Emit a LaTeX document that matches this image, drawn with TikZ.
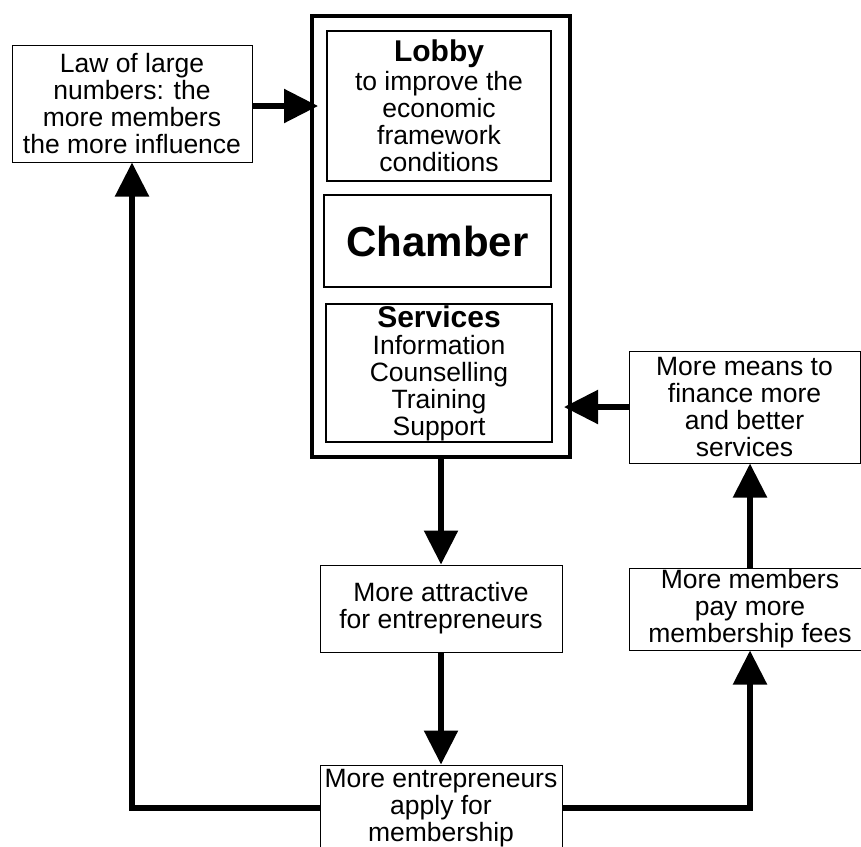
\documentclass[tikz,border=0pt]{standalone}
\usepackage{fontspec}
\setmainfont{Liberation Sans}
\usetikzlibrary{arrows.meta}

\begin{document}
\begin{tikzpicture}[x=1pt,y=-1pt,
  box/.style={draw=black,line width=1pt,inner sep=0pt,align=center,
    font=\fontsize{26.5}{27}\selectfont},
  inbox/.style={box,line width=1.6pt},
  flow/.style={line width=5.5pt,-{Triangle[length=34pt,width=33pt]}}]
\useasboundingbox (0,0) rectangle (861,846);
\clip (0,0) rectangle (861,846);
%chamber
\node[draw,line width=4pt,minimum width=258pt,minimum height=441pt] (frame) at (441,236.5) {};
\node[inbox,minimum width=224pt,minimum height=150pt] (lobby) at (439,106)
  {{\bfseries\fontsize{30}{27}\selectfont Lobby}\\[1.5pt]to improve the\\economic\\framework\\conditions};
\node[inbox,minimum width=227pt,minimum height=92pt] (chamber) at (437.5,241)
  {\bfseries\fontsize{42}{42}\selectfont Chamber};
\node[inbox,minimum width=226pt,minimum height=138pt] (services) at (439,373)
  {{\bfseries\fontsize{30}{27}\selectfont Services}\\Information\\Counselling\\Training\\Support};
%loop
\node[box,minimum width=240pt,minimum height=117pt] (law) at (132,103.5)
  {Law of large\\numbers: the\\more members\\the more influence};
\node[box,minimum width=242pt,minimum height=87pt] (attractive) at (441,608.5)
  {More attractive\\for entrepreneurs};
\node[box,minimum width=242pt,minimum height=86pt] (apply) at (441,808)
  {More entrepreneurs\\apply for\\membership};
\node[box,minimum width=242pt,minimum height=82pt] (fees) at (750,609)
  {More members\\pay more\\membership fees};
\node[box,minimum width=231pt,minimum height=112pt] (means) at (744.5,407)
  {More means to\\finance more\\and better\\services};
%arrows
\draw[flow,shorten >=-8pt] (law.east |- lobby.west) -- (lobby.west -| frame.west);
\draw[flow] (frame.south) -- (attractive.north);
\draw[flow] (attractive.south) -- (apply.north);
\draw[flow] (apply.west) -| (law.south);
\draw[flow] (apply.east) -| (fees.south);
\draw[flow] (fees.north) -- (fees.north |- means.south);
\draw[flow,shorten >=-8pt] (means.west) -- (means.west -| frame.east);
\end{tikzpicture}
\end{document}
